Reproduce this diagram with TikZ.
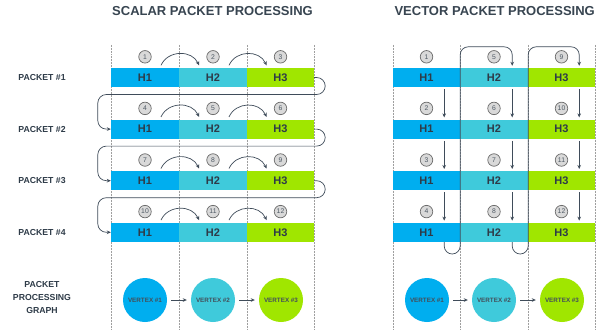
\documentclass[tikz,border=0pt]{standalone}
\usepackage{fontspec}
\setmainfont{Liberation Sans}
\usetikzlibrary{arrows.meta,calc}
\definecolor{cA}{HTML}{00AEEF}
\definecolor{cB}{HTML}{3FCADB}
\definecolor{cC}{HTML}{A0E600}
\definecolor{ink}{HTML}{2E3B48}
\definecolor{lineC}{HTML}{3F4C5A}
\begin{document}
\begin{tikzpicture}[x=1pt,y=-1pt,
 bar/.style={draw=none,minimum height=19pt,inner sep=0pt,font=\bfseries\fontsize{11}{11}\selectfont,text=ink},
 num/.style={circle,draw=gray!85!black,fill=gray!30,line width=0.7pt,minimum size=12.5pt,inner sep=0pt,font=\fontsize{6.8}{6.8}\selectfont,text=ink!85},
 lbl/.style={font=\bfseries\fontsize{8.7}{12.5}\selectfont,text=ink,align=center},
 ttl/.style={font=\bfseries\fontsize{13}{14}\selectfont,text=ink!95},
 guide/.style={densely dotted,gray!75,line width=0.5pt},
 conn/.style={draw=lineC,line width=0.7pt,-{Stealth[length=4pt,width=3.6pt]}},
 vtx/.style={circle,minimum size=44pt,inner sep=0pt,font=\bfseries\fontsize{6.3}{7}\selectfont,text=ink!90}]
\fill[white] (0,0) rectangle (596,329);
\useasboundingbox (0,0) rectangle (596,329);
% guides
\foreach \x in {111,179,247,314,393,460,528,595}
  \draw[guide] (\x,45) -- (\x,329);
% titles
\node[ttl] (t1) at (212.5,11) {SCALAR PACKET PROCESSING};
\node[ttl,anchor=west] (t2) at (391,11) {VECTOR PACKET PROCESSING};
% rows
\foreach \r/\y in {1/77.5,2/129.1,3/180.7,4/232.3}{
  \node[lbl] (p\r) at (42,\y) {PACKET \#\r};
  \node[bar,fill=cA,minimum width=68pt] (s\r1) at (145,\y) {H1};
  \node[bar,fill=cB,minimum width=68pt] (s\r2) at (213,\y) {H2};
  \node[bar,fill=cC,minimum width=67pt] (s\r3) at (280.5,\y) {H3};
  \node[bar,fill=cA,minimum width=67pt] (v\r1) at (426.5,\y) {H1};
  \node[bar,fill=cB,minimum width=68pt] (v\r2) at (494,\y) {H2};
  \node[bar,fill=cC,minimum width=67pt] (v\r3) at (561.5,\y) {H3};
  \foreach \c in {1,2,3}{
    \pgfmathtruncatemacro{\ns}{3*(\r-1)+\c}
    \pgfmathtruncatemacro{\nv}{4*(\c-1)+\r}
    \node[num] (sn\r\c) at ($(s\r\c.north)+(0,-11)$) {\ns};
    \node[num] (vn\r\c) at ($(v\r\c.north)+(0,-11)$) {\nv};
  }
  \draw[conn] ($(s\r1.north)+(16,-2.5)$) .. controls +(7,-15.5) and +(-7,-15.5) .. ($(s\r2.north)+(-14,-2.5)$);
  \draw[conn] ($(s\r2.north)+(16,-2.5)$) .. controls +(7,-15.5) and +(-7,-15.5) .. ($(s\r3.north)+(-14,-2.5)$);
}
% scalar return loops
\foreach \r/\n in {1/2,2/3,3/4}{
  \draw[conn,rounded corners=8.5pt] (s\r3.east) -- ++(11,0) -- ++(0,17) -| ($(s\n1.west)+(-13,0)$) -- (s\n1.west);
}
% vector down arrows
\foreach \r/\n in {1/2,2/3,3/4}{
  \foreach \c in {1,2,3}{
    \draw[conn] ($(v\r\c.south east)+(-16,2)$) -- ($(v\n\c.north east)+(-16,-2)$);
  }
}
% vector column loops
\draw[conn,rounded corners=8pt] ($(v41.south east)+(-16,0)$) -- ++(0,12) -- ++(16,0) -- ($(v11.north east)+(0,-21)$) -- ($(v12.north east)+(-16,-21)$) -- ($(v12.north east)+(-16,-2)$);
\draw[conn,rounded corners=8pt] ($(v42.south east)+(-16,0)$) -- ++(0,12) -- ++(16,0) -- ($(v12.north east)+(0,-21)$) -- ($(v13.north east)+(-16,-21)$) -- ($(v13.north east)+(-16,-2)$);
% graph
\node[lbl] (pg) at (42,297.5) {PACKET\\PROCESSING\\GRAPH};
\node[vtx,fill=cA] (sv1) at (145,300) {VERTEX \#1};
\node[vtx,fill=cB] (sv2) at (213,300) {VERTEX \#2};
\node[vtx,fill=cC] (sv3) at (281,300) {VERTEX \#3};
\node[vtx,fill=cA] (vv1) at (427,300) {VERTEX \#1};
\node[vtx,fill=cB] (vv2) at (494,300) {VERTEX \#2};
\node[vtx,fill=cC] (vv3) at (562,300) {VERTEX \#3};
\draw[conn,shorten <=4pt,shorten >=4pt] (sv1) -- (sv2);
\draw[conn,shorten <=4pt,shorten >=4pt] (sv2) -- (sv3);
\draw[conn,shorten <=4pt,shorten >=4pt] (vv1) -- (vv2);
\draw[conn,shorten <=4pt,shorten >=4pt] (vv2) -- (vv3);
\end{tikzpicture}
\end{document}
